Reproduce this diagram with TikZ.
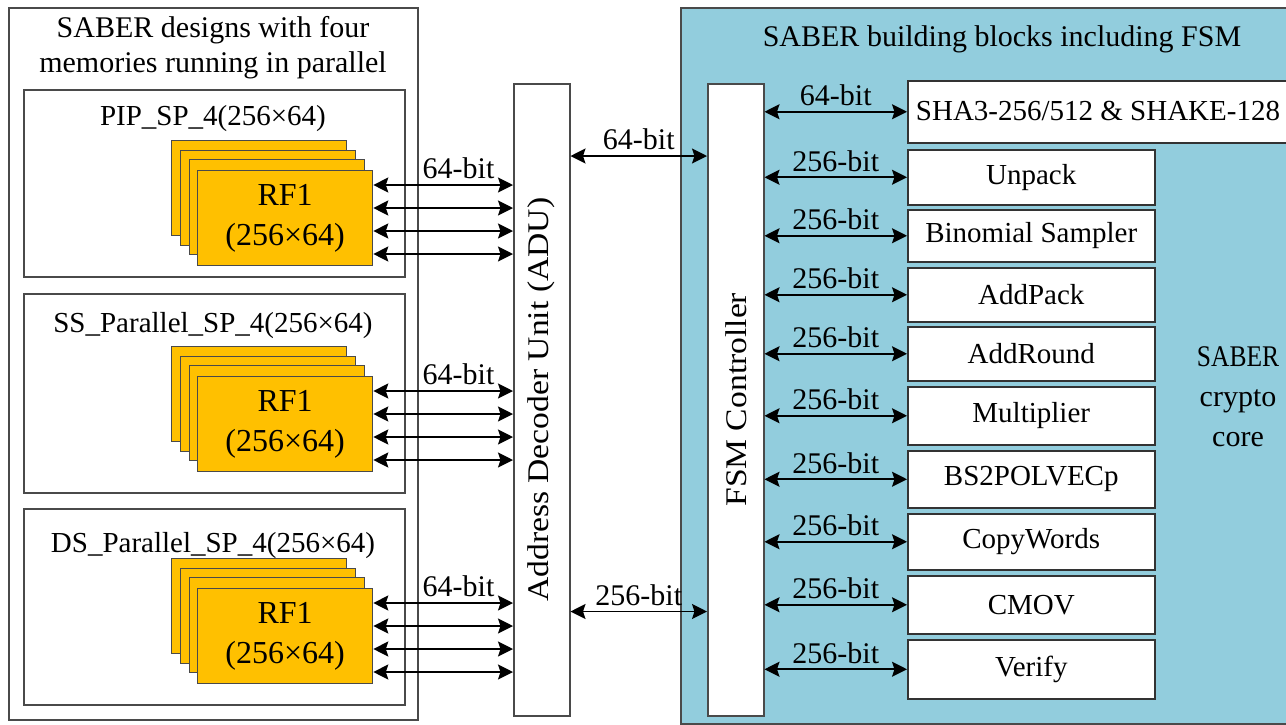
\documentclass[tikz,border=0pt]{standalone}
\usepackage{fontspec}
\usepackage{graphicx}
\setmainfont{Liberation Serif}
\usetikzlibrary{arrows.meta,calc}
\definecolor{rfo}{HTML}{FFC000}
\definecolor{corec}{HTML}{92CDDD}
\definecolor{edgec}{HTML}{4A4A4A}
\begin{document}
\begin{tikzpicture}[x=1pt,y=-1pt,font=\fontsize{30}{36}\selectfont,
  frame/.style={draw=edgec, line width=1.5pt, fill=white, inner sep=0pt, anchor=north west},
  rf/.style={draw=edgec, line width=1.3pt, fill=rfo, minimum width=175pt, minimum height=95pt, inner sep=0pt, anchor=north west},
  blk/.style={draw=black!80, line width=1.5pt, fill=white, inner sep=0pt, anchor=north west},
  blktxt/.style={font=\fontsize{29}{35}\selectfont},
  dbl/.style={{Stealth[length=15pt,width=15pt,inset=2.5pt]}-{Stealth[length=15pt,width=15pt,inset=2.5pt]}, line width=1.7pt},
  lbl/.style={above=4pt, inner sep=1pt}]
\useasboundingbox (0,0) rectangle (1286,724);
\fill[white] (0,0) rectangle (1286,724);

% left part
\node[frame, minimum width=409pt, minimum height=712pt] (outer) at (8,7) {};
\node[anchor=base] (t1) at (213,37) {SABER designs with four};
\node[anchor=base] (t2) at (213,72) {memories running in parallel};

\node[frame, minimum width=381pt, minimum height=187pt] (s1) at (23,89) {};
\node[frame, minimum width=381pt, minimum height=199pt] (s2) at (23,293) {};
\node[frame, minimum width=381pt, minimum height=196pt] (s3) at (23,508) {};
\node[anchor=base, blktxt] (st1) at (213,125) {PIP\_SP\_4(256×64)};
\node[anchor=base, blktxt] (st2) at (213,332) {SS\_Parallel\_SP\_4(256×64)};
\node[anchor=base, blktxt] (st3) at (213,552) {DS\_Parallel\_SP\_4(256×64)};

\foreach \g/\T in {1/170,2/376,3/588} {
  \node[rf] (ba\g) at (171,\T-30) {};
  \node[rf] (bb\g) at (180,\T-20) {};
  \node[rf] (bc\g) at (189,\T-11) {};
  \node[rf, align=center, font=\fontsize{32}{40}\selectfont] (f\g) at (197,\T) {RF1\\(256×64)};
}

% ADU
\node[frame, minimum width=56pt, minimum height=632pt] (adu) at (513,83) {};
\node[rotate=90, xscale=1.12] (adut) at (adu.center) {Address Decoder Unit (ADU)};

% right part
\node[draw=edgec, fill=corec, line width=1.5pt, inner sep=0pt, anchor=north west,
      minimum width=620pt, minimum height=716pt] (core) at (680,7) {};
\node[anchor=base] (coret) at (1002,46) {SABER building blocks including FSM};
\node[align=center, font=\fontsize{30}{40}\selectfont] (crypto) at (1238,397) {\scalebox{0.85}[1]{SABER}\\crypto\\core};

\node[frame, minimum width=56pt, minimum height=632pt] (fsm) at (707,83) {};
\node[rotate=90, xscale=1.12] (fsmt) at (fsm.center) {FSM Controller};

\node[blk, minimum width=383pt, minimum height=62pt] (sha) at (907,80) {};
\node[blktxt] (shat) at (1098,111) {SHA3-256/512 \& SHAKE-128};

\foreach \n/\t/\h/\txt in {unp/149/55/Unpack, bin/209/52/Binomial Sampler, adp/267/54/AddPack,
    adr/326/54/AddRound, mul/386/58/Multiplier, bsp/450/57/BS2POLVECp,
    cpw/513/56/CopyWords, cmv/575/58/CMOV, ver/639/59/Verify} {
  \node[blk, minimum width=247pt, minimum height=\h pt] (\n) at (907,\t) {};
  \node[blktxt] (\n t) at (\n.center) {\txt};
}

% connectors: memories to ADU
\foreach \g in {1,2,3} {
  \path ([yshift=-15pt]f\g.north east) coordinate (p\g0);
  \draw[dbl] (p\g0) -- node[lbl, pos=.61] {64-bit} (p\g0 -| adu.west);
  \foreach \k in {1,2,3} {
    \path ([yshift=-15pt-23pt*\k]f\g.north east) coordinate (p\g\k);
    \draw[dbl] (p\g\k) -- (p\g\k -| adu.west);
  }
}

% ADU to FSM
\path ([yshift=-73pt]adu.north east) coordinate (a1);
\path ([yshift=105pt]adu.south east) coordinate (a2);
\draw[dbl] (a1) -- node[lbl] {64-bit} (a1 -| fsm.west);
\draw[dbl] (a2) -- node[lbl] {256-bit} (a2 -| fsm.west);

% FSM to blocks
\draw[dbl] (fsm.east |- sha.west) -- node[lbl] {64-bit} (sha.west);
\foreach \n in {unp,bin,adp,adr,mul,bsp,cpw,cmv,ver} {
  \draw[dbl] (fsm.east |- \n.west) -- node[lbl] {256-bit} (\n.west);
}
\end{tikzpicture}
\end{document}
